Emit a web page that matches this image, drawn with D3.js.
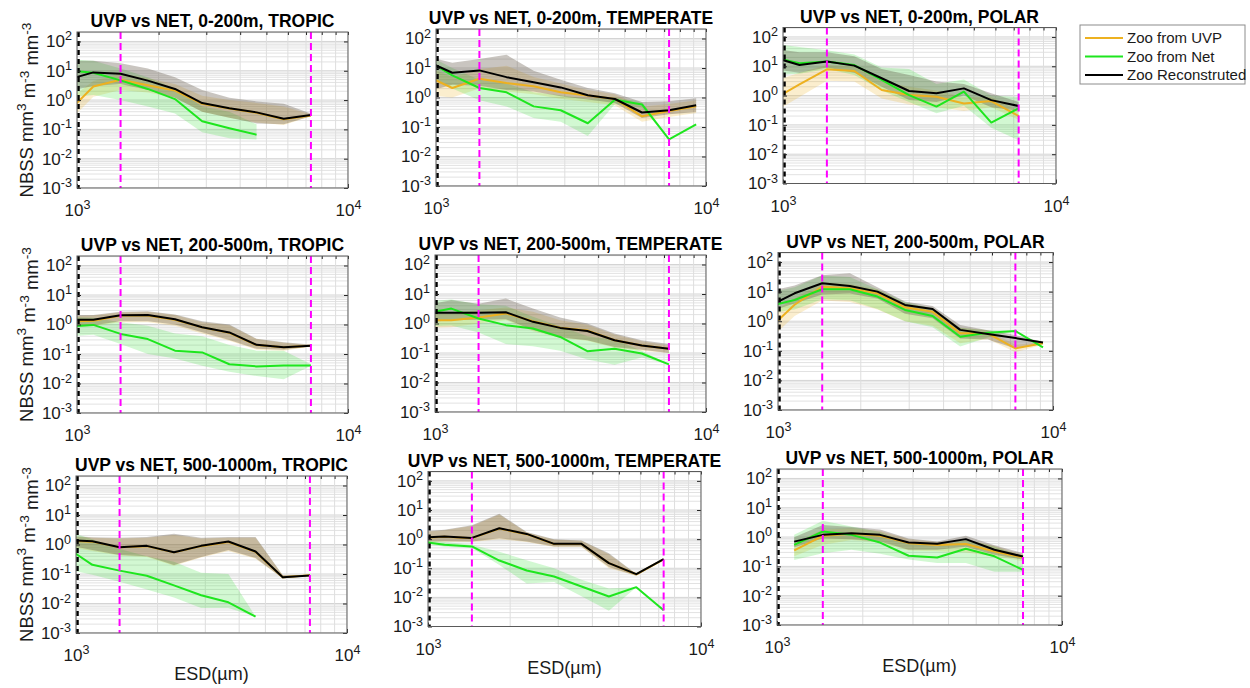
<!DOCTYPE html>
<html>
<head>
<meta charset="utf-8">
<script src="https://d3js.org/d3.v7.min.js"></script>
<style>
  body { margin: 0; background: #fff; }
  svg { font-family: Arial, "Liberation Sans", Helvetica, sans-serif; }
</style>
</head>
<body>
<script>
var width = 1250, height = 688;

// ESD bin centres (µm)
var esdBins = [912, 1149, 1448, 1825, 2299, 2896, 3649, 4598, 5793, 7298, 9195];
var sizeLimits = [1448, 7298];   // magenta dashed lines
var netLimit = 1000;             // black dashed line
var yTickValues = [1e-3, 1e-2, 1e-1, 1, 10, 100];
var xTickValues = [1e3, 1e4];
var titles = [
  "UVP vs NET, 0-200m, TROPIC", "UVP vs NET, 0-200m, TEMPERATE", "UVP vs NET, 0-200m, POLAR",
  "UVP vs NET, 200-500m, TROPIC", "UVP vs NET, 200-500m, TEMPERATE", "UVP vs NET, 200-500m, POLAR",
  "UVP vs NET, 500-1000m, TROPIC", "UVP vs NET, 500-1000m, TEMPERATE", "UVP vs NET, 500-1000m, POLAR"
];
var legendLabels = ["Zoo from UVP", "Zoo from Net", "Zoo Reconstruted"];

// ---- 0-200m TROPIC
var trop0_uvp   = [0.34, 2.9, 4.9, 3.2, 2.1, 0.75, 0.52, 0.37, 0.22, 0.30, null];
var trop0_uvpLo = [0.15, 1.3, 2.2, 1.8, 1.2, 0.40, 0.25, 0.17, 0.14, 0.28, null];
var trop0_uvpHi = [0.9, 4.5, 8.0, 5.5, 3.5, 1.4, 1.0, 0.8, 0.6, 0.33, null];
var trop0_net   = [10.5, 8.5, 4.7, 2.4, 1.08, 0.19, 0.11, 0.066, null, null, null];
var trop0_netLo = [1.2, 1.5, 1.0, 0.6, 0.35, 0.08, 0.05, 0.045, null, null, null];
var trop0_netHi = [25, 22, 12, 6, 2.5, 0.6, 0.4, 0.15, null, null, null];
var trop0_rec   = [4.8, 8.8, 7.9, 4.6, 2.4, 0.79, 0.53, 0.38, 0.23, 0.31, null];
var trop0_recLo = [2.0, 3.0, 3.5, 2.2, 1.2, 0.40, 0.25, 0.16, 0.15, 0.28, null];
var trop0_recHi = [22, 22, 18, 12, 6.0, 2.2, 1.2, 0.9, 0.75, 0.35, null];

// ---- 0-200m TEMPERATE
var temp0_uvp   = [5.6, 2.1, 4.3, 3.1, 2.4, 1.5, 1.16, 0.89, 0.23, 0.35, 0.5];
var temp0_uvpLo = [1.2, 1.0, 2.0, 1.6, 1.3, 0.9, 0.7, 0.55, 0.15, 0.22, 0.3];
var temp0_uvpHi = [12, 5, 9, 12, 5, 3, 1.8, 1.3, 0.5, 0.6, 0.8];
var temp0_net   = [20, 5.6, 2.1, 1.5, 0.5, 0.37, 0.134, 0.84, 0.58, 0.038, 0.123];
var temp0_netLo = [6, 2, 0.8, 0.5, 0.2, 0.15, 0.05, 0.6, 0.45, 0.038, 0.123];
var temp0_netHi = [30, 10, 4, 3, 1.5, 1.2, 0.9, 1.0, 0.7, 0.038, 0.123];
var temp0_rec   = [18, 6.9, 8.3, 4.9, 3.3, 2.2, 1.2, 0.89, 0.31, 0.37, 0.55];
var temp0_recLo = [1.5, 2.7, 2.5, 1.8, 1.6, 1.1, 0.85, 0.65, 0.2, 0.27, 0.32];
var temp0_recHi = [25, 15, 20, 28, 8, 4, 2.1, 1.4, 0.7, 0.75, 0.95];

// ---- 0-200m POLAR
var pol0_uvp   = [0.7, 2.4, 7.9, 6.9, 1.55, 1.04, 0.91, 0.54, 0.65, 0.2, null];
var pol0_uvpLo = [0.25, 0.9, 3.2, 3.0, 0.8, 0.5, 0.4, 0.3, 0.4, 0.15, null];
var pol0_uvpHi = [3, 6, 11, 10, 3, 2, 1.5, 0.9, 0.9, 0.3, null];
var pol0_net   = [21, 12.6, 14.4, 11.0, 3.4, 1.04, 0.42, 1.36, 0.12, 0.37, null];
var pol0_netLo = [5, 5.5, 8, 5, 1.5, 0.6, 0.25, 0.45, 0.08, 0.03, null];
var pol0_netHi = [60, 45, 35, 25, 9, 8, 2.5, 3.5, 1.0, 0.9, null];
var pol0_rec   = [21, 11, 14.4, 10.5, 3.9, 1.43, 1.19, 1.76, 0.70, 0.44, null];
var pol0_recLo = [8, 6, 9, 6, 2, 0.7, 0.6, 1.0, 0.4, 0.3, null];
var pol0_recHi = [40, 30, 30, 22, 8, 5, 3, 2.5, 1.2, 0.6, null];

// ---- 200-500m TROPIC
var trop200_uvp   = [1.25, 1.35, 2.0, 2.0, 1.45, 0.8, 0.52, 0.2, 0.17, 0.19, null];
var trop200_uvpLo = [0.8, 0.9, 1.2, 1.2, 0.9, 0.5, 0.28, 0.14, 0.13, 0.18, null];
var trop200_uvpHi = [1.9, 2.0, 2.6, 2.7, 2.1, 1.2, 0.95, 0.32, 0.24, 0.2, null];
var trop200_net   = [0.85, 0.97, 0.48, 0.32, 0.13, 0.113, 0.045, 0.038, 0.041, 0.041, null];
var trop200_netLo = [0.4, 0.45, 0.22, 0.1, 0.07, 0.04, 0.025, 0.018, 0.014, 0.04, null];
var trop200_netHi = [1.8, 1.7, 1.2, 0.9, 0.5, 0.4, 0.2, 0.13, 0.13, 0.045, null];
var trop200_rec   = [1.44, 1.44, 2.07, 2.1, 1.5, 0.81, 0.54, 0.205, 0.17, 0.19, null];
var trop200_recLo = [0.85, 0.95, 1.3, 1.3, 1.0, 0.55, 0.3, 0.15, 0.14, 0.18, null];
var trop200_recHi = [2.1, 2.1, 2.7, 2.8, 2.2, 1.3, 1.0, 0.33, 0.25, 0.21, null];

// ---- 200-500m TEMPERATE
var temp200_uvp   = [1.3, 1.3, 1.6, 2.2, 1.2, 0.72, 0.58, 0.27, 0.18, 0.14, null];
var temp200_uvpLo = [0.7, 0.75, 1.0, 1.3, 0.55, 0.33, 0.26, 0.15, 0.12, 0.1, null];
var temp200_uvpHi = [2.2, 2.3, 2.8, 3.5, 2.5, 1.3, 0.9, 0.42, 0.25, 0.18, null];
var temp200_net   = [2.1, 3.2, 1.48, 0.88, 0.68, 0.35, 0.115, 0.14, 0.096, 0.041, null];
var temp200_netLo = [0.8, 0.85, 0.5, 0.2, 0.17, 0.12, 0.06, 0.04, 0.07, 0.041, null];
var temp200_netHi = [5.5, 6.5, 4.5, 4.0, 1.7, 0.8, 0.37, 0.28, 0.12, 0.041, null];
var temp200_rec   = [2.3, 2.3, 2.3, 2.4, 1.14, 0.71, 0.56, 0.27, 0.18, 0.14, null];
var temp200_recLo = [1.1, 1.3, 1.35, 1.4, 0.6, 0.34, 0.27, 0.16, 0.13, 0.1, null];
var temp200_recHi = [4.2, 6.1, 4.7, 7.0, 3.2, 1.6, 1.0, 0.46, 0.27, 0.2, null];

// ---- 200-500m POLAR
var pol200_uvp   = [0.47, 3.6, 14.7, 13, 8.8, 2.96, 2.1, 0.39, 0.39, 0.12, 0.18];
var pol200_uvpLo = [0.2, 1.5, 5, 4.5, 2.5, 1.0, 0.7, 0.18, 0.25, 0.09, 0.16];
var pol200_uvpHi = [1.5, 6, 20, 18, 12, 4, 2.8, 0.6, 0.5, 0.16, 0.2];
var pol200_net   = [3.1, 5.2, 12, 12, 6.8, 2.4, 1.5, 0.3, 0.41, 0.47, 0.13];
var pol200_netLo = [1.8, 2.5, 5.5, 5.1, 2.6, 1.0, 0.62, 0.14, 0.28, 0.47, 0.13];
var pol200_netHi = [9, 14, 35, 31, 12, 4.5, 2.7, 0.6, 0.5, 0.47, 0.13];
var pol200_rec   = [2.97, 8.8, 19.2, 15.6, 10, 3.56, 2.6, 0.51, 0.37, 0.27, 0.19];
var pol200_recLo = [2, 4, 8, 8.7, 5.9, 1.8, 1.25, 0.26, 0.24, 0.12, 0.17];
var pol200_recHi = [10, 16, 36, 42, 14, 4.6, 3.3, 0.75, 0.5, 0.34, 0.2];

// ---- 500-1000m TROPIC
var trop500_uvp   = [1.35, 1.25, 0.8, 0.88, 0.54, 0.88, 1.22, 0.56, 0.078, 0.09, null];
var trop500_uvpLo = [0.9, 0.6, 0.42, 0.38, 0.19, 0.36, 0.6, 0.33, 0.07, 0.088, null];
var trop500_uvpHi = [1.9, 1.7, 1.6, 1.7, 2.1, 1.6, 1.7, 1.7, 0.09, 0.09, null];
var trop500_net   = [0.85, 0.205, 0.13, 0.087, 0.041, 0.019, 0.011, 0.0036, null, null, null];
var trop500_netLo = [0.15, 0.095, 0.055, 0.03, 0.016, 0.007, 0.007, 0.0036, null, null, null];
var trop500_netHi = [3, 1.5, 0.7, 0.4, 0.26, 0.11, 0.1, 0.0036, null, null, null];
var trop500_rec   = [1.4, 1.29, 0.81, 0.9, 0.55, 0.9, 1.26, 0.58, 0.078, 0.089, null];
var trop500_recLo = [0.98, 0.65, 0.44, 0.4, 0.2, 0.38, 0.65, 0.35, 0.07, 0.089, null];
var trop500_recHi = [2.0, 1.75, 1.7, 1.78, 2.3, 1.7, 1.8, 1.8, 0.09, 0.089, null];

// ---- 500-1000m TEMPERATE
var temp500_uvp   = [1.1, 1.2, 1.08, 2.3, 1.48, 0.68, 0.68, 0.15, 0.062, 0.2, null];
var temp500_uvpLo = [0.8, 0.82, 0.8, 1.0, 0.8, 0.54, 0.54, 0.1, 0.055, 0.19, null];
var temp500_uvpHi = [1.7, 2.0, 2.8, 7.0, 1.7, 0.95, 0.88, 0.3, 0.064, 0.2, null];
var temp500_net   = [0.87, 0.64, 0.56, 0.184, 0.084, 0.052, 0.0236, 0.0107, 0.0224, 0.0036, null];
var temp500_netLo = [0.75, 0.55, 0.5, 0.13, 0.03, 0.034, 0.011, 0.0035, 0.0224, 0.0036, null];
var temp500_netHi = [1.0, 0.8, 0.64, 0.37, 0.19, 0.1, 0.04, 0.02, 0.0224, 0.0036, null];
var temp500_rec   = [1.13, 1.23, 1.1, 2.37, 1.51, 0.69, 0.69, 0.15, 0.063, 0.205, null];
var temp500_recLo = [0.83, 0.85, 0.83, 1.07, 0.83, 0.56, 0.56, 0.11, 0.055, 0.2, null];
var temp500_recHi = [1.8, 2.1, 3.0, 7.4, 1.75, 1.0, 0.9, 0.33, 0.064, 0.205, null];

// ---- 500-1000m POLAR
var pol500_uvp   = [null, 0.35, 1.1, 1.3, 1.1, 0.62, 0.54, 0.58, 0.32, 0.2, null];
var pol500_uvpLo = [null, 0.22, 0.55, 0.8, 0.65, 0.35, 0.33, 0.3, 0.22, 0.15, null];
var pol500_uvpHi = [null, 0.6, 1.8, 2.0, 1.6, 0.85, 0.68, 0.85, 0.5, 0.25, null];
var pol500_net   = [null, 0.54, 1.55, 1.19, 0.65, 0.23, 0.2, 0.4, 0.22, 0.076, null];
var pol500_netLo = [null, 0.166, 0.28, 0.37, 0.27, 0.17, 0.13, 0.13, 0.066, 0.066, null];
var pol500_netHi = [null, 1.2, 3.6, 2.3, 1.5, 0.63, 0.48, 0.82, 0.48, 0.216, null];
var pol500_rec   = [null, 0.70, 1.19, 1.36, 1.19, 0.65, 0.59, 0.85, 0.37, 0.216, null];
var pol500_recLo = [null, 0.45, 0.9, 0.85, 0.71, 0.37, 0.37, 0.47, 0.25, 0.17, null];
var pol500_recHi = [null, 0.98, 2.6, 2.2, 1.8, 0.9, 0.7, 1.1, 0.53, 0.28, null];

// panel boxes [left, top, right, bottom] in page pixels
var panelBoxes = [
  [77, 32, 348, 188], [436, 29, 706, 186], [783, 27.5, 1056, 183.5],
  [77, 256, 348, 413], [435, 255, 706, 412], [778, 252.5, 1053, 410],
  [76, 476, 347, 633], [428, 471.5, 701, 626.5], [777, 469, 1062, 625]
];

var panels = [
  [trop0_uvp, trop0_uvpLo, trop0_uvpHi, trop0_net, trop0_netLo, trop0_netHi, trop0_rec, trop0_recLo, trop0_recHi],
  [temp0_uvp, temp0_uvpLo, temp0_uvpHi, temp0_net, temp0_netLo, temp0_netHi, temp0_rec, temp0_recLo, temp0_recHi],
  [pol0_uvp, pol0_uvpLo, pol0_uvpHi, pol0_net, pol0_netLo, pol0_netHi, pol0_rec, pol0_recLo, pol0_recHi],
  [trop200_uvp, trop200_uvpLo, trop200_uvpHi, trop200_net, trop200_netLo, trop200_netHi, trop200_rec, trop200_recLo, trop200_recHi],
  [temp200_uvp, temp200_uvpLo, temp200_uvpHi, temp200_net, temp200_netLo, temp200_netHi, temp200_rec, temp200_recLo, temp200_recHi],
  [pol200_uvp, pol200_uvpLo, pol200_uvpHi, pol200_net, pol200_netLo, pol200_netHi, pol200_rec, pol200_recLo, pol200_recHi],
  [trop500_uvp, trop500_uvpLo, trop500_uvpHi, trop500_net, trop500_netLo, trop500_netHi, trop500_rec, trop500_recLo, trop500_recHi],
  [temp500_uvp, temp500_uvpLo, temp500_uvpHi, temp500_net, temp500_netLo, temp500_netHi, temp500_rec, temp500_recLo, temp500_recHi],
  [pol500_uvp, pol500_uvpLo, pol500_uvpHi, pol500_net, pol500_netLo, pol500_netHi, pol500_rec, pol500_recLo, pol500_recHi]
];

var colUvp = "#EDB120", colNet = "#1EE61E", colRec = "#000000";

var svg = d3.select("body").append("svg")
    .attr("width", width)
    .attr("height", height);

function superLabel(sel, base, exp) {
  sel.append("tspan").text(base);
  sel.append("tspan").attr("dy", "-0.55em").attr("font-size", "0.74em").text(exp);
}

panels.forEach(function (p, i) {
  var b = panelBoxes[i];
  var w = b[2] - b[0], h = b[3] - b[1];
  var row = Math.floor(i / 3), col = i % 3;

  var x = d3.scaleLog().domain([1e3, 1e4]).range([0, w]);
  var y = d3.scaleLog().domain([1e-3, 210]).range([h, 0]);

  var g = svg.append("g").attr("transform", "translate(" + b[0] + "," + b[1] + ")");

  g.append("clipPath").attr("id", "clip" + i)
    .append("rect").attr("width", w).attr("height", h);

  g.append("rect").attr("width", w).attr("height", h).attr("fill", "#fff");

  // grid
  var grid = g.append("g").attr("clip-path", "url(#clip" + i + ")");
  grid.selectAll(".gy").data(y.ticks()).enter().append("line")
    .attr("x1", 0).attr("x2", w)
    .attr("y1", function (d) { return y(d); }).attr("y2", function (d) { return y(d); })
    .attr("stroke", function (d) { return yTickValues.indexOf(d) >= 0 ? "#d4d4d4" : "#e2e2e2"; })
    .attr("stroke-width", 1);
  grid.selectAll(".gx").data(x.ticks()).enter().append("line")
    .attr("y1", 0).attr("y2", h)
    .attr("x1", function (d) { return x(d); }).attr("x2", function (d) { return x(d); })
    .attr("stroke", "#dedede")
    .attr("stroke-width", 1);

  var idx = d3.range(esdBins.length);
  var plot = g.append("g").attr("clip-path", "url(#clip" + i + ")");

  function band(lo, hi, fill, op) {
    var area = d3.area()
      .defined(function (k) { return lo[k] != null && hi[k] != null; })
      .x(function (k) { return x(esdBins[k]); })
      .y0(function (k) { return y(lo[k]); })
      .y1(function (k) { return y(hi[k]); });
    plot.append("path").attr("d", area(idx))
      .attr("fill", fill).attr("fill-opacity", op).attr("stroke", "none");
  }
  function series(vals, color) {
    var line = d3.line()
      .defined(function (k) { return vals[k] != null; })
      .x(function (k) { return x(esdBins[k]); })
      .y(function (k) { return y(vals[k]); });
    plot.append("path").attr("d", line(idx))
      .attr("fill", "none").attr("stroke", color).attr("stroke-width", 2)
      .attr("stroke-linejoin", "round");
  }

  band(p[1], p[2], colUvp, 0.22);
  band(p[4], p[5], "#33dd33", 0.22);
  band(p[7], p[8], "#5a5040", 0.33);

  series(p[0], colUvp);
  series(p[3], colNet);
  series(p[6], colRec);

  // dashed limits
  g.selectAll(".lim").data(sizeLimits).enter().append("line")
    .attr("x1", function (d) { return x(d); }).attr("x2", function (d) { return x(d); })
    .attr("y1", 0).attr("y2", h)
    .attr("stroke", "#FF00FF").attr("stroke-width", 2)
    .attr("stroke-dasharray", "7,4");
  g.append("line")
    .attr("x1", x(netLimit) + 1.5).attr("x2", x(netLimit) + 1.5)
    .attr("y1", 0).attr("y2", h)
    .attr("stroke", "#000").attr("stroke-width", 2.5)
    .attr("stroke-dasharray", "5,4");

  // axes
  var yAxis = g.append("g")
    .call(d3.axisLeft(y).tickValues(yTickValues).tickSize(-4).tickPadding(5).tickFormat(""));
  yAxis.selectAll(".tick text").each(function (d) {
    superLabel(d3.select(this), "10", Math.round(Math.log10(d)));
  });
  g.append("g").attr("transform", "translate(" + w + ",0)")
    .call(d3.axisRight(y).tickValues(yTickValues).tickSize(-4).tickFormat(""));
  var xAxis = g.append("g").attr("transform", "translate(0," + h + ")")
    .call(d3.axisBottom(x).tickValues(xTickValues).tickSize(-4).tickPadding(16).tickFormat(""));
  xAxis.selectAll(".tick text").each(function (d) {
    superLabel(d3.select(this), "10", Math.round(Math.log10(d)));
  });
  g.append("g")
    .call(d3.axisTop(x).tickValues(x.ticks()).tickSize(-3).tickFormat(""));
  g.selectAll(".domain").remove();
  g.selectAll(".tick line").attr("stroke", "#262626");
  g.selectAll(".tick text").attr("font-size", 17).attr("fill", "#1a1a1a")
    .attr("font-family", "Arial, 'Liberation Sans', sans-serif");

  g.append("rect").attr("width", w).attr("height", h)
    .attr("fill", "none").attr("stroke", "#5a5a5a").attr("stroke-width", 1);

  // title
  g.append("text")
    .attr("x", w / 2).attr("y", -5)
    .attr("text-anchor", "middle")
    .attr("font-size", 17.5).attr("font-weight", "bold")
    .text(titles[i]);

  if (col === 0) {
    var yl = svg.append("text")
      .attr("transform", "translate(33," + (b[1] + h / 2) + ") rotate(-90)")
      .attr("text-anchor", "middle")
      .attr("font-size", 18.5).attr("fill", "#1a1a1a");
    yl.append("tspan").text("NBSS mm");
    yl.append("tspan").attr("dy", "-0.5em").attr("font-size", "0.74em").text("3");
    yl.append("tspan").attr("dy", "0.5em").text(" m");
    yl.append("tspan").attr("dy", "-0.5em").attr("font-size", "0.74em").text("-3");
    yl.append("tspan").attr("dy", "0.5em").text(" mm");
    yl.append("tspan").attr("dy", "-0.5em").attr("font-size", "0.74em").text("-3");
  }
  if (row === 2) {
    g.append("text")
      .attr("x", w / 2).attr("y", h + 47)
      .attr("text-anchor", "middle")
      .attr("font-size", 18).attr("fill", "#1a1a1a")
      .text("ESD(µm)");
  }
});

// legend
var legend = svg.append("g").attr("transform", "translate(1080,25)");
legend.append("rect").attr("width", 165).attr("height", 59)
  .attr("fill", "#fff").attr("stroke", "#8c8c8c").attr("stroke-width", 1);
var legendColors = [colUvp, colNet, colRec];
legendLabels.forEach(function (lab, k) {
  var ly = 13 + k * 18.5;
  legend.append("line").attr("x1", 5).attr("x2", 43).attr("y1", ly).attr("y2", ly)
    .attr("stroke", legendColors[k]).attr("stroke-width", 2);
  legend.append("text").attr("x", 47).attr("y", ly).attr("dy", "0.35em")
    .attr("font-size", 15).attr("fill", "#1a1a1a").text(lab);
});
</script>
</body>
</html>
